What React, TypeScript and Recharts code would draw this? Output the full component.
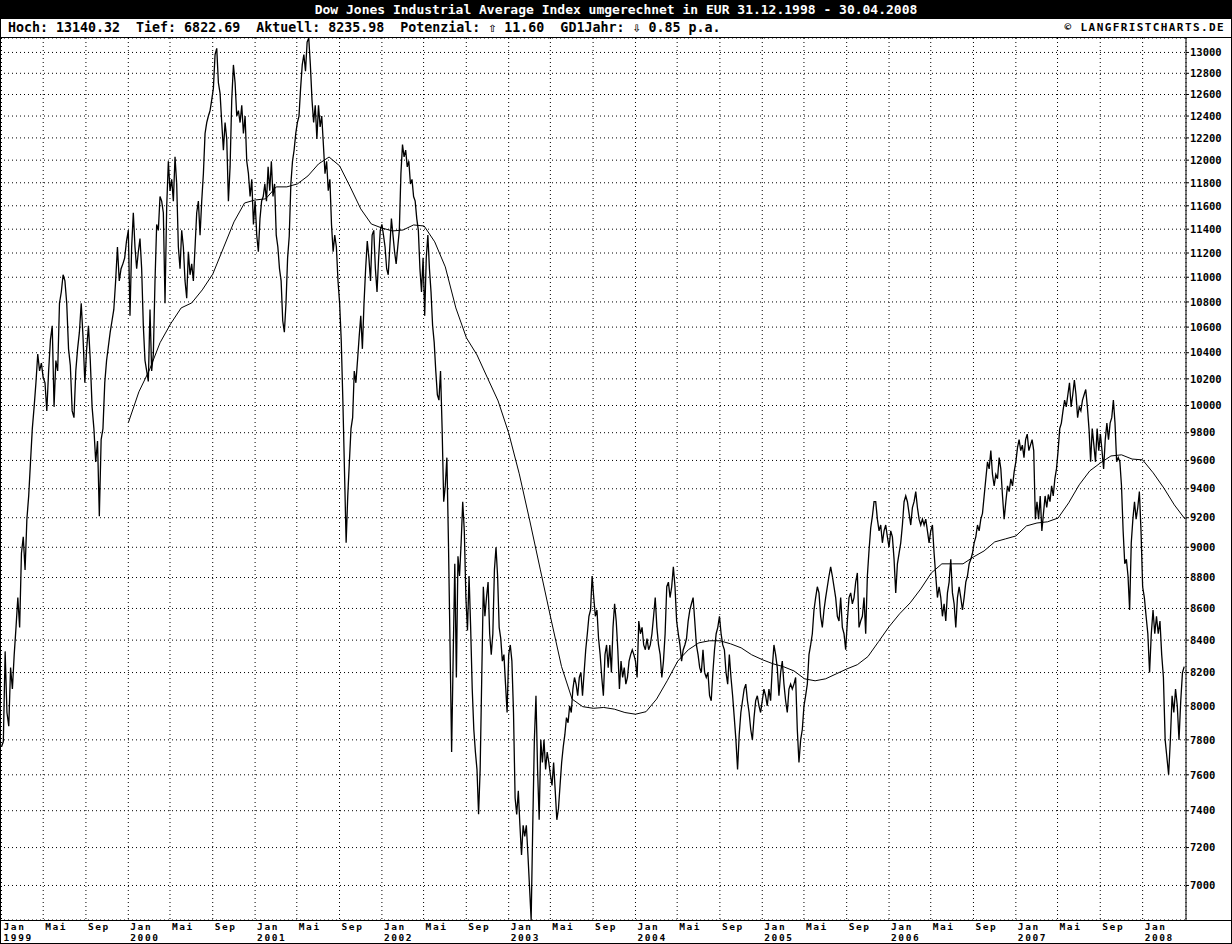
import React from 'react';
import { LineChart, Line, XAxis, YAxis, CartesianGrid } from 'recharts';

const p1999 = [7760, 7790, 8330, 7960, 7880, 8230, 8100, 8310, 8480, 8670, 8480, 8960, 9070, 8850, 9190, 9350,
  9590, 9830, 9990, 10170, 10390, 10260, 10320, 10210, 10170, 9960, 10260, 10500, 10610, 9990, 10340, 10260,
  10790, 10880, 11020, 10970, 10790, 10430, 10300, 9960, 9910, 10260, 10430, 10560, 10790, 10520, 10170, 10430,
  10610, 10340, 9990, 9830, 9590, 9740, 9210, 9750, 9830, 10170, 10340, 10450, 10560, 10650, 10740, 10970,
  11250, 10970, 11070, 11110, 11160, 11300];
const p2000 = [11390, 10690, 11250, 11540, 11250, 11070, 11210, 11320, 11070, 10610, 10340, 10260, 10180, 10740,
  10260, 10390, 10970, 11440, 11390, 11680, 11640, 11540, 10790, 11590, 11990, 11730, 11830, 11640, 12030, 11790,
  11250, 11070, 11390, 11250, 10970, 10830, 11210, 11020, 11110, 10970, 11250, 11540, 11640, 11350, 11640, 11880,
  12240, 12340, 12400, 12450, 12550, 12660, 12980, 13040, 12710, 12610, 12340, 12090, 12340, 12190, 11640, 11940,
  12550, 12880, 12710, 12400, 12450, 12340, 12500, 12240, 12400, 11990, 11880, 11680, 11830, 11440];
const p2001 = [11640, 11350, 11210, 11490, 11640, 11680, 11790, 11640, 11940, 11730, 11990, 11680, 11790, 11350,
  11250, 11070, 10970, 10650, 10560, 10790, 11160, 11340, 11790, 11990, 12090, 12240, 12340, 12400, 12660, 12880,
  12980, 12820, 13100, 13140, 12880, 12550, 12340, 12500, 12190, 12500, 12300, 12400, 12140, 11880, 11990, 11730,
  11830, 11440, 11210, 11350, 11250, 10970, 10790, 10490, 10030, 9520, 9030, 9350, 9590, 9830, 9910, 10260,
  10170, 10340, 10520, 10690, 10430, 10790, 11070, 11300, 11160, 10970, 11350, 11390, 11070, 10880, 11160, 11390];
const p2002 = [11440, 11350, 11250, 11070, 11020, 11250, 11490, 11350, 11210, 11110, 11250, 11390, 11880, 12140,
  12030, 12090, 11940, 11990, 11790, 11830, 11680, 11640, 11490, 11390, 11070, 10880, 11160, 10690, 11160, 11350,
  11070, 10880, 10610, 10480, 10260, 10080, 10040, 10260, 9830, 9310, 9420, 9620, 9030, 8370, 7730, 8310,
  8890, 8170, 8940, 8810, 9030, 9310, 9110, 8670, 8460, 8810, 8480, 8100, 7860, 7730, 7630, 7380,
  7630, 8170, 8740, 8550, 8670, 8770, 8440, 8310, 8440, 8850, 9000, 8810, 8480, 8410, 8270, 8310, 8130, 7960];
const p2003 = [8310, 8370, 8270, 7960, 7470, 7380, 7510, 7320, 7160, 7320, 7260, 7320, 7160, 6990, 6823, 7320,
  7800, 8060, 7630, 7350, 7800, 7670, 7800, 7630, 7730, 7670, 7600, 7540, 7670, 7510, 7350, 7410,
  7540, 7670, 7760, 7830, 7930, 7900, 8000, 7960, 8100, 8170, 8130, 8060, 8170, 8200, 8060, 8200,
  8340, 8440, 8550, 8590, 8810, 8670, 8550, 8590, 8410, 8310, 8170, 8060, 8310, 8370, 8230, 8370,
  8200, 8480, 8630, 8520, 8340, 8100, 8270, 8170, 8230, 8130, 8170, 8270, 8310, 8340, 8310];
const p2004 = [8270, 8170, 8520, 8440, 8480, 8370, 8340, 8410, 8340, 8370, 8440, 8550, 8670, 8480, 8370, 8310,
  8170, 8270, 8440, 8740, 8770, 8670, 8740, 8870, 8740, 8520, 8440, 8370, 8270, 8340, 8370, 8410,
  8520, 8590, 8630, 8670, 8520, 8370, 8310, 8230, 8200, 8340, 8200, 8170, 8200, 8060, 8030, 8200,
  8340, 8440, 8480, 8550, 8440, 8370, 8340, 8200, 8130, 8310, 8170, 8060, 7930, 7800, 7630, 7830,
  7960, 8030, 8100, 8130, 8030, 7960, 7860, 7800, 7930, 8030, 8060, 8000, 7960];
const p2005 = [8030, 8100, 8060, 8000, 8100, 8030, 8230, 8370, 8310, 8230, 8060, 8200, 8270, 8130, 8030, 7960,
  8100, 8130, 8100, 8130, 8170, 7860, 7670, 7800, 7860, 8000, 8060, 8130, 8310, 8370, 8440, 8590,
  8670, 8740, 8700, 8550, 8480, 8590, 8670, 8740, 8810, 8870, 8810, 8740, 8670, 8550, 8520, 8670,
  8480, 8440, 8340, 8520, 8670, 8700, 8630, 8670, 8770, 8830, 8480, 8520, 8550, 8670, 8440, 8810,
  8980, 9130, 9210, 9310, 9310, 9190, 9110, 9150, 9030, 9110, 9150, 9070];
const p2006 = [9000, 9110, 9070, 8920, 8700, 8890, 8960, 9030, 9150, 9310, 9350, 9310, 9230, 9150, 9270, 9310,
  9380, 9270, 9190, 9150, 9190, 9150, 9190, 9110, 9030, 9110, 9150, 8960, 8810, 8670, 8740, 8670,
  8550, 8630, 8520, 8700, 8770, 8920, 8700, 8630, 8480, 8670, 8740, 8670, 8590, 8670, 8770, 8810,
  8890, 8920, 8960, 9030, 9070, 9150, 9110, 9190, 9230, 9350, 9470, 9590, 9540, 9670, 9500, 9420,
  9500, 9470, 9620, 9540, 9350, 9190, 9310, 9420, 9380, 9470, 9420, 9520];
const p2007 = [9590, 9690, 9750, 9670, 9710, 9620, 9750, 9790, 9670, 9710, 9750, 9670, 9190, 9310, 9190, 9350,
  9110, 9230, 9350, 9270, 9360, 9310, 9420, 9350, 9470, 9540, 9670, 9830, 9870, 9960, 10040, 9990,
  10080, 10170, 9990, 10080, 10190, 10080, 9910, 9990, 9960, 10040, 10080, 10120, 9990, 9830, 9590, 9830,
  9710, 9590, 9830, 9670, 9790, 9670, 9540, 9750, 9870, 9750, 9870, 9910, 10040, 9870, 9590, 9620,
  9590, 9420, 9110, 8890, 8920, 8810, 8590, 9030, 9190, 9310, 9190, 9270, 9380, 9110];
const p2008 = [8740, 8670, 8550, 8440, 8200, 8440, 8590, 8440, 8550, 8440, 8520, 8310, 8170, 7800, 7700, 7600,
  7800, 8060, 7960, 8100, 8000, 7800, 8030, 8200, 8236];

const priceYears = [1999, 2000, 2001, 2002, 2003, 2004, 2005, 2006, 2007, 2008];
const priceSeries = [p1999, p2000, p2001, p2002, p2003, p2004, p2005, p2006, p2007, p2008];

// GD 1 Jahr (gleitender Durchschnitt), Monatswerte ab Jan 2000 bis Ende Apr 2008
const gd1Jahr = [9872, 10102, 10268, 10477, 10625, 10752, 10792, 10897, 11027, 11242, 11462, 11624,
  11650, 11660, 11764, 11764, 11790, 11860, 11966, 12028, 11949, 11764, 11573, 11444,
  11410, 11385, 11393, 11436, 11427, 11293, 11085, 10752, 10516, 10383, 10206, 10034,
  9798, 9505, 9178, 8850, 8534, 8237, 8040, 7995, 7985, 7990, 7980, 7960,
  7950, 7965, 8040, 8150, 8270, 8340, 8383, 8396, 8396, 8377, 8352, 8309,
  8279, 8254, 8236, 8210, 8162, 8150, 8162, 8192, 8222, 8248, 8298, 8390,
  8484, 8566, 8636, 8726, 8830, 8890, 8890, 8890, 8936, 8976, 9036, 9056,
  9076, 9144, 9164, 9172, 9198, 9302, 9428, 9526, 9582, 9632, 9640, 9610,
  9604, 9512, 9406, 9288, 9192];

const yTicks = [7000, 7200, 7400, 7600, 7800, 8000, 8200, 8400, 8600, 8800, 9000, 9200, 9400, 9600, 9800,
  10000, 10200, 10400, 10600, 10800, 11000, 11200, 11400, 11600, 11800, 12000, 12200, 12400, 12600, 12800, 13000];
const tickYears = [1999, 2000, 2001, 2002, 2003, 2004, 2005, 2006, 2007, 2008];
const tickMonths = ['Jan', 'Mai', 'Sep'];
const tickMonthDay = [0, 120, 243];

const MIN = 6822.69;
const MAX = 13140.32;

const priceData = priceSeries.flatMap((vals, i) => {
  const yr = priceYears[i];
  const last = yr === 2008;
  const span = last ? 120 / 366 : 1;
  const n = last ? vals.length - 1 : vals.length;
  return vals.map((v, k) => ({ t: yr + (k / n) * span, v }));
});
const gdData = gd1Jahr.map((v, m) => ({ t: 2000 + m / 12, v }));

const xTickInfo = tickYears.flatMap((yr) =>
  tickMonths.map((m, i) => ({ t: yr + tickMonthDay[i] / 365, label: m, year: i === 0 ? String(yr) : '' }))
).filter((d) => d.t < 2008.3);
const xTicks = xTickInfo.map((d) => d.t);

const mono = 'DejaVu Sans Mono, monospace';

const XTick = (props: any) => {
  const { x, y, payload } = props;
  const info = xTickInfo.find((d) => Math.abs(d.t - payload.value) < 1e-6);
  if (!info) return null;
  const style = { fill: '#000', fontSize: 9.5, fontWeight: 700, fontFamily: mono, letterSpacing: 1.6 };
  return (
    <g>
      <text x={x + 2} y={y + 9.5} {...style}>{info.label}</text>
      {info.year && <text x={x + 2} y={y + 20.8} {...style}>{info.year}</text>}
    </g>
  );
};

export default function App() {
  return (
    <div style={{ position: 'absolute', left: 0, top: 0, width: 1232, height: 944, background: '#fff', overflow: 'hidden' }}>
      <div style={{ position: 'absolute', left: 0, top: 0, width: 1232, height: 19, background: '#000', color: '#fff',
        fontFamily: mono, fontSize: 13, fontWeight: 700, lineHeight: '19px', textAlign: 'center', whiteSpace: 'pre' }}>
        Dow Jones Industrial Average Index umgerechnet in EUR 31.12.1998 - 30.04.2008
      </div>
      <div style={{ position: 'absolute', left: 8, top: 19, height: 18, fontFamily: mono, fontSize: 13.3,
        fontWeight: 700, lineHeight: '18px', whiteSpace: 'pre', color: '#000' }}>
        {'Hoch: 13140.32  Tief: 6822.69  Aktuell: 8235.98  Potenzial: \u21e7 11.60  GD1Jahr: \u21e9 0.85 p.a.'}
      </div>
      <div style={{ position: 'absolute', right: 7, top: 19, height: 18, fontFamily: mono, fontSize: 11,
        fontWeight: 700, letterSpacing: 1.4, lineHeight: '18px', whiteSpace: 'pre', color: '#000' }}>
        © LANGFRISTCHARTS.DE
      </div>
      <div style={{ position: 'absolute', left: 0, top: 37, width: 1232, height: 1, background: '#000' }} />
      <div style={{ position: 'absolute', left: 0, top: 38 }}>
        <LineChart width={1232} height={906} margin={{ top: 0, right: 0, bottom: 0, left: 0 }}>
          <CartesianGrid stroke="#000" strokeDasharray="1 3" />
          <XAxis type="number" dataKey="t" domain={[1998.988, 2008.342]} allowDataOverflow ticks={xTicks}
            interval={0} height={24} tickSize={0} tickMargin={0} tickLine={false} axisLine={false} tick={<XTick />} />
          <YAxis orientation="right" type="number" scale="log" domain={[MIN, MAX]} allowDataOverflow ticks={yTicks}
            interval={0} width={46} tickSize={3} tickMargin={1} tickLine={{ stroke: '#000' }}
            axisLine={{ stroke: '#000' }}
            tick={{ fill: '#000', fontSize: 10.5, fontWeight: 700, fontFamily: mono }} />
          <Line data={gdData} dataKey="v" type="linear" stroke="#000" strokeWidth={1} dot={false}
            isAnimationActive={false} />
          <Line data={priceData} dataKey="v" type="linear" stroke="#000" strokeWidth={1.3} dot={false}
            isAnimationActive={false} />
        </LineChart>
      </div>
      <div style={{ position: 'absolute', left: 0, top: 920, width: 1232, height: 1, background: '#000' }} />
      <div style={{ position: 'absolute', left: 0, top: 0, width: 1232, height: 944, border: '1px solid #000',
        boxSizing: 'border-box', pointerEvents: 'none' }} />
    </div>
  );
}
